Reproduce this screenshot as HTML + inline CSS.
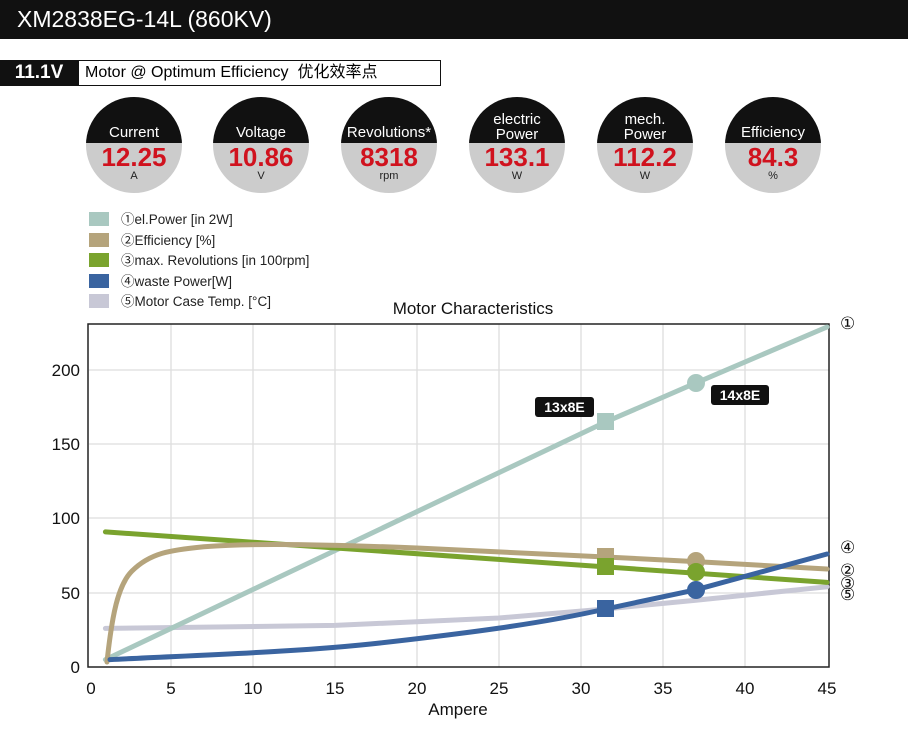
<!DOCTYPE html>
<html><head><meta charset="utf-8"><style>
body{margin:0;width:908px;height:732px;background:#fff;overflow:hidden;font-family:"Liberation Sans","Noto Sans CJK SC",sans-serif;position:relative}
.hdr{position:absolute;left:0;top:0;width:908px;height:39px;background:#111;color:#fff;font-size:23px;line-height:39px;padding-left:17px;box-sizing:border-box}
.v{position:absolute;left:0;top:60px;width:78px;height:26px;background:#111;color:#fff;font-weight:bold;font-size:19px;line-height:26px;text-align:center}
.t{position:absolute;left:78px;top:60px;width:363px;height:26px;border:1.5px solid #111;box-sizing:border-box;font-size:16px;line-height:23px;padding-left:6px}
.c{position:absolute;top:97px;width:96px;height:96px;border-radius:50%;overflow:hidden;background:#ccc;text-align:center}
.c .top{height:46px;background:#111;color:#fff;font-size:15px;line-height:15px;box-sizing:border-box;padding-top:28px}
.c .top.two{padding-top:15px;line-height:15px}
.c .val{color:#d0121e;font-weight:bold;font-size:26px;line-height:29px}
.c .u{font-size:11px;line-height:9px;color:#222}
.lg{position:absolute;left:89px;font-size:13.5px;color:#222}
.lg i{display:inline-block;width:20px;height:14px;vertical-align:-2px;margin-right:12px}
</style></head><body>
<div class="hdr">XM2838EG-14L (860KV)</div>
<div class="v">11.1V</div>
<div class="t">Motor @ Optimum Efficiency &nbsp;优化效率点</div>
<div class="c" style="left:86px"><div class="top">Current</div><div class="val">12.25</div><div class="u">A</div></div>
<div class="c" style="left:213px"><div class="top">Voltage</div><div class="val">10.86</div><div class="u">V</div></div>
<div class="c" style="left:341px"><div class="top">Revolutions*</div><div class="val">8318</div><div class="u">rpm</div></div>
<div class="c" style="left:469px"><div class="top two">electric<br>Power</div><div class="val">133.1</div><div class="u">W</div></div>
<div class="c" style="left:597px"><div class="top two">mech.<br>Power</div><div class="val">112.2</div><div class="u">W</div></div>
<div class="c" style="left:725px"><div class="top">Efficiency</div><div class="val">84.3</div><div class="u">%</div></div>
<div class="lg" style="top:208px"><i style="background:#a9c8c0"></i>①el.Power [in 2W]</div>
<div class="lg" style="top:229px"><i style="background:#b5a47c"></i>②Efficiency [%]</div>
<div class="lg" style="top:249px"><i style="background:#7aa32e"></i>③max. Revolutions [in 100rpm]</div>
<div class="lg" style="top:270px"><i style="background:#3a64a0"></i>④waste Power[W]</div>
<div class="lg" style="top:290px"><i style="background:#c8c8d6"></i>⑤Motor Case Temp. [°C]</div>
<svg width="908" height="732" style="position:absolute;left:0;top:0" font-family="Liberation Sans, sans-serif">
<text x="473" y="314" font-size="17" text-anchor="middle" fill="#111">Motor Characteristics</text>
<g stroke="#ddd" stroke-width="1.3">
<line x1="171" y1="324" x2="171" y2="667"/><line x1="253" y1="324" x2="253" y2="667"/><line x1="335" y1="324" x2="335" y2="667"/><line x1="417" y1="324" x2="417" y2="667"/><line x1="499" y1="324" x2="499" y2="667"/><line x1="581" y1="324" x2="581" y2="667"/><line x1="663" y1="324" x2="663" y2="667"/><line x1="745" y1="324" x2="745" y2="667"/>
<line x1="89" y1="370" x2="829" y2="370"/><line x1="89" y1="444" x2="829" y2="444"/><line x1="89" y1="518" x2="829" y2="518"/><line x1="89" y1="593" x2="829" y2="593"/>
</g>
<rect x="88" y="324" width="741" height="343" fill="none" stroke="#222" stroke-width="1.5"/>
<g font-size="17" fill="#111" text-anchor="end"><text x="80" y="376">200</text><text x="80" y="450">150</text><text x="80" y="524">100</text><text x="80" y="599">50</text><text x="80" y="673">0</text></g>
<g font-size="17" fill="#111" text-anchor="middle"><text x="91" y="694">0</text><text x="171" y="694">5</text><text x="253" y="694">10</text><text x="335" y="694">15</text><text x="417" y="694">20</text><text x="499" y="694">25</text><text x="581" y="694">30</text><text x="663" y="694">35</text><text x="745" y="694">40</text><text x="827" y="694">45</text><text x="458" y="715">Ampere</text></g>
<g fill="none" stroke-width="5" stroke-linecap="round">
<polyline stroke="#c8c8d6" points="105.4,628.4 335,625.4 499,618 605.6,609 695.8,600.2 827,586.8"/>
<polyline stroke="#a9c8c0" points="105.4,659.6 605.6,422 695.8,383 827,327"/>
<line stroke="#7aa32e" x1="105.4" y1="531.9" x2="827" y2="582.4"/>
<path stroke="#b5a47c" d="M107,662 C112,615 118,585 132,571 C150,553 170,550 203.8,546.7 C240,544 290,543 417,548 L605.6,557 L695.8,561.6 L827,569"/>
<path stroke="#3a64a0" d="M110,659.6 C200,655 300,652 380,643 C460,634 540,624 605.6,609 L695.8,589.8 L827,554"/>
</g>
<rect x="597" y="413" width="17" height="17" fill="#a9c8c0"/><circle cx="696" cy="383" r="9" fill="#a9c8c0"/>
<rect x="597" y="548" width="17" height="17" fill="#b5a47c"/><circle cx="696" cy="561" r="9" fill="#b5a47c"/>
<rect x="597" y="558" width="17" height="17" fill="#7aa32e"/><circle cx="696" cy="572" r="9" fill="#7aa32e"/>
<rect x="597" y="600" width="17" height="17" fill="#3a64a0"/><circle cx="696" cy="590" r="9" fill="#3a64a0"/>
<rect x="535" y="397" width="59" height="20" rx="3" fill="#111"/><text x="564.5" y="412" font-size="14" font-weight="bold" fill="#fff" text-anchor="middle">13x8E</text>
<rect x="711" y="385" width="58" height="20" rx="3" fill="#111"/><text x="740" y="400" font-size="14" font-weight="bold" fill="#fff" text-anchor="middle">14x8E</text>
<g font-size="17" fill="#111" font-family="DejaVu Sans, sans-serif"><text x="840" y="329">①</text><text x="840" y="553">④</text><text x="840" y="576">②</text><text x="840" y="589">③</text><text x="840" y="600">⑤</text></g>
</svg>
</body></html>
